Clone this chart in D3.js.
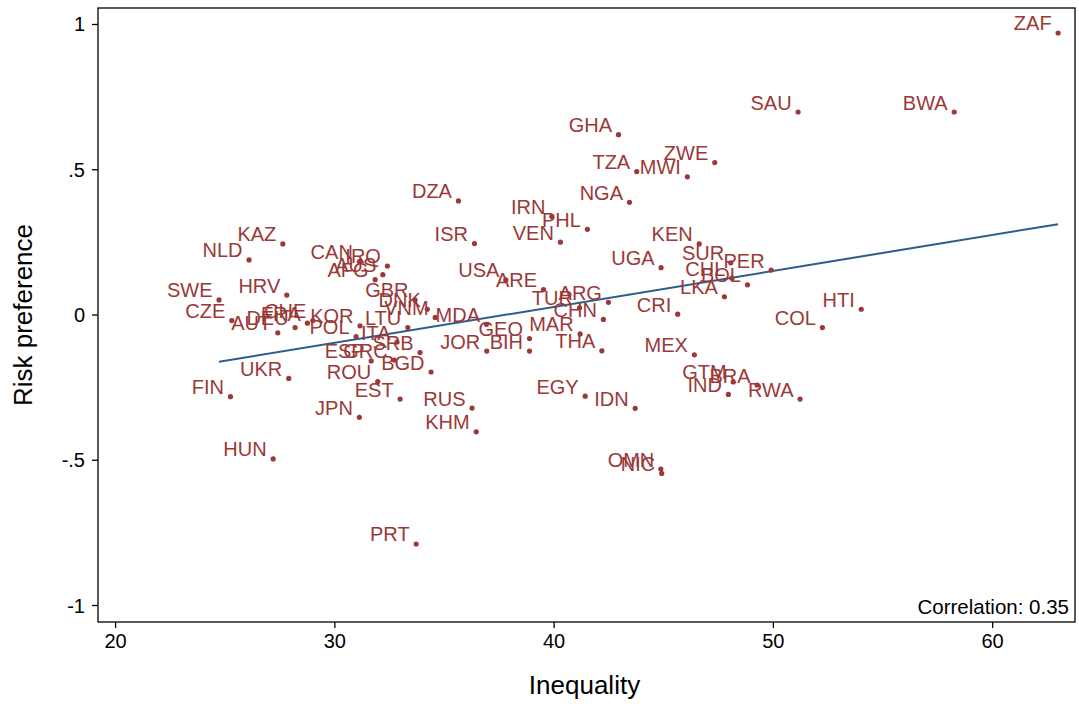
<!DOCTYPE html>
<html>
<head>
<meta charset="utf-8">
<script src="https://cdn.jsdelivr.net/npm/d3@7"></script>
<style>
  html, body { margin: 0; padding: 0; background: #ffffff; }
  svg { display: block; font-family: "Liberation Sans", Arial, Helvetica, sans-serif; }
</style>
</head>
<body>
<svg id="chart" width="1079" height="704"></svg>
<script>
// ---- data ----
const countries = ["ZAF","SAU","BWA","GHA","ZWE","TZA","MWI","NGA","DZA","IRN","PHL","ISR","VEN","KEN","UGA","SUR","PER","CHL","BOL","LKA","CRI","HTI","COL","MEX","GTM","BRA","IND","RWA","IDN","EGY","OMN","NIC","THA","CHN","ARG","TUR","MAR","ARE","USA","GEO","BIH","JOR","MDA","RUS","KHM","PRT","HUN","JPN","EST","ROU","BGD","SRB","GRC","ESP","ITA","LTU","POL","KOR","VNM","DNK","GBR","AFG","AUS","IRQ","CAN","KAZ","NLD","HRV","SWE","CZE","AUT","DEU","FRA","CHE","UKR","FIN"];
const inequality = [63.01,51.15,58.27,42.96,47.35,43.79,46.10,43.46,35.66,39.92,41.54,36.39,40.31,46.64,44.90,48.08,49.92,48.13,48.84,47.79,45.66,54.03,52.26,46.42,48.19,49.28,47.97,51.24,43.72,41.44,44.89,44.93,42.20,42.27,42.50,41.18,41.21,39.54,37.82,38.90,38.90,36.95,36.94,36.28,36.47,33.73,27.21,31.14,33.00,31.98,34.41,33.91,32.73,31.68,32.86,33.35,30.99,31.17,34.60,34.24,33.68,31.86,32.21,32.42,31.14,27.65,26.11,27.83,24.74,25.32,27.42,28.21,28.77,29.02,27.92,25.26];
const riskPref = [0.969,0.697,0.697,0.619,0.523,0.492,0.474,0.386,0.391,0.337,0.293,0.244,0.249,0.243,0.161,0.178,0.153,0.125,0.102,0.061,0.001,0.018,-0.045,-0.139,-0.232,-0.243,-0.275,-0.291,-0.323,-0.281,-0.532,-0.547,-0.125,-0.017,0.042,0.023,-0.067,0.086,0.119,-0.083,-0.126,-0.126,-0.034,-0.322,-0.404,-0.790,-0.497,-0.354,-0.291,-0.231,-0.198,-0.131,-0.157,-0.160,-0.095,-0.045,-0.076,-0.039,-0.010,0.018,0.050,0.120,0.137,0.167,0.182,0.243,0.188,0.067,0.050,-0.021,-0.063,-0.045,-0.030,-0.021,-0.220,-0.283];
const fitX = [24.74, 63.01];
const fitY = [-0.163, 0.311];
const xTicks = [20, 30, 40, 50, 60];
const yTicks = [1, 0.5, 0, -0.5, -1];
const yTickLabels = ["1", ".5", "0", "-.5", "-1"];
const xTitle = "Inequality";
const yTitle = "Risk preference";
const note = "Correlation: 0.35";

// ---- layout ----
const svg = d3.select("#chart");
const M = { left: 98, top: 8, right: 4, bottom: 82 };
const W = 1079 - M.left - M.right;
const H = 704 - M.top - M.bottom;
const markColor = "#9b3838";
const lineColor = "#2c5d8c";

const x = d3.scaleLinear().domain([19.22, 63.78]).range([0, W]);
const y = d3.scaleLinear().domain([-1.0585, 1.055]).range([H, 0]);

const g = svg.append("g").attr("transform", `translate(${M.left},${M.top})`);

// frame
g.append("rect").attr("x", 0).attr("y", 0).attr("width", W).attr("height", H)
  .attr("fill", "none").attr("stroke", "#000").attr("stroke-width", 1.3);

// axes
const xAxis = d3.axisBottom(x).tickValues(xTicks).tickSize(6).tickPadding(6).tickFormat(d3.format("d"));
const yAxis = d3.axisLeft(y).tickValues(yTicks).tickSize(6).tickPadding(7).tickFormat((d, i) => yTickLabels[i]);

const gx = g.append("g").attr("transform", `translate(0,${H})`).call(xAxis);
const gy = g.append("g").call(yAxis);
[gx, gy].forEach(a => {
  a.select(".domain").remove();
  a.selectAll(".tick line").attr("stroke", "#000").attr("stroke-width", 1.3);
  a.selectAll(".tick text").attr("fill", "#000").style("font-size", "20px")
    .style("font-family", "'Liberation Sans', Arial, sans-serif");
});
gy.selectAll(".tick text").attr("dy", "0.35em");

// fit line
g.append("line")
  .attr("x1", x(fitX[0])).attr("y1", y(fitY[0]))
  .attr("x2", x(fitX[1])).attr("y2", y(fitY[1]))
  .attr("stroke", lineColor).attr("stroke-width", 2);

// points + labels
const pts = countries.map((c, i) => ({ c, x: inequality[i], y: riskPref[i] }));
const pg = g.append("g");
pg.selectAll("circle").data(pts).join("circle")
  .attr("cx", d => x(d.x)).attr("cy", d => y(d.y)).attr("r", 2.6)
  .attr("fill", markColor);
pg.selectAll("text").data(pts).join("text")
  .attr("x", d => x(d.x) - 6.5).attr("y", d => y(d.y) - 2.5)
  .attr("text-anchor", "end")
  .attr("fill", markColor)
  .style("font-size", "20px")
  .text(d => d.c);

// note
g.append("text").attr("x", W - 6).attr("y", H - 8)
  .attr("text-anchor", "end").attr("fill", "#000")
  .style("font-size", "20.5px").text(note);

// titles
svg.append("text").attr("x", M.left + W / 2 - 2).attr("y", 694)
  .attr("text-anchor", "middle").attr("fill", "#000")
  .style("font-size", "26px").text(xTitle);
svg.append("text")
  .attr("transform", `translate(32,${M.top + H / 2}) rotate(-90)`)
  .attr("text-anchor", "middle").attr("fill", "#000")
  .style("font-size", "26px").text(yTitle);
</script>
</body>
</html>
